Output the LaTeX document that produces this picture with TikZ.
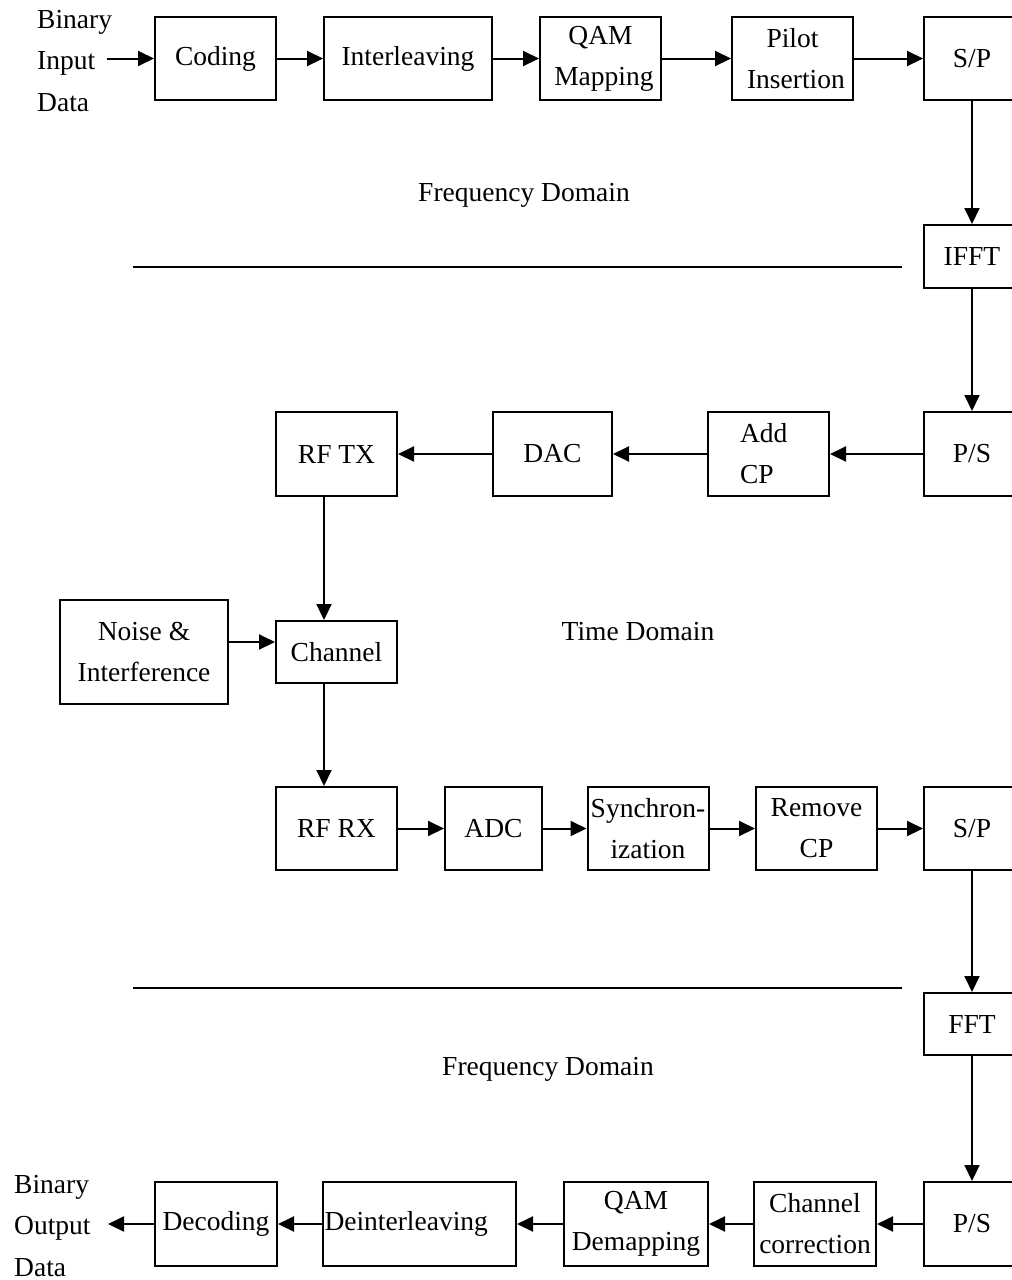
\documentclass[tikz,border=0pt]{standalone}
\usepackage{fontspec}
\setmainfont{Liberation Serif}
\usetikzlibrary{arrows.meta}
\begin{document}
\begin{tikzpicture}[x=1pt,y=-1pt,
  box/.style={draw, line width=2pt, inner sep=0pt, align=center, font=\fontsize{27.5}{41}\selectfont},
  lbl/.style={inner sep=0pt, align=left, font=\fontsize{27.5}{41.5}\selectfont},
  dom/.style={inner sep=0pt, font=\fontsize{27.5}{32}\selectfont},
  arr/.style={line width=2pt, -{Triangle[length=16pt,width=15pt]}},
  ln/.style={line width=2pt}]
\useasboundingbox (0,0) rectangle (1012,1280);
\clip (0,0) rectangle (1012,1280);
% top row
\node[lbl, anchor=west] (inp) at (37,61) {Binary\\Input\\Data};
\node[box, minimum width=121pt, minimum height=83pt] (coding) at (215.5,58.5) {Coding};
\node[box, minimum width=168pt, minimum height=83pt] (inter) at (408,58.5) {Interleaving};
\node[box, minimum width=121pt, minimum height=83pt] (qam) at (600.5,58.5) {QAM\\\ Mapping};
\node[box, minimum width=121pt, minimum height=83pt] (pilot) at (792.5,58.5) {Pilot\\\ Insertion};
\node[box, minimum width=96pt, minimum height=83pt] (sp1) at (972,58.5) {S/P};
\node[box, minimum width=96pt, minimum height=63pt] (ifft) at (972,256.5) {IFFT};
% row 2
\node[box, minimum width=121pt, minimum height=84pt] (rftx) at (336.5,454) {RF TX};
\node[box, minimum width=119pt, minimum height=84pt] (dac) at (552.5,454) {DAC};
\node[box, minimum width=121pt, minimum height=84pt, text width=57pt, align=left] (addcp) at (768.5,454) {Add\\CP};
\node[box, minimum width=96pt, minimum height=84pt] (ps1) at (972,454) {P/S};
% channel
\node[box, minimum width=168pt, minimum height=104pt] (noise) at (144,652) {Noise \&\\Interference};
\node[box, minimum width=121pt, minimum height=62pt] (chan) at (336.5,652) {Channel};
% row 3
\node[box, minimum width=121pt, minimum height=83pt] (rfrx) at (336.5,828.5) {RF RX};
\node[box, minimum width=97pt, minimum height=83pt] (adc) at (493.5,828.5) {ADC};
\node[box, minimum width=121pt, minimum height=83pt] (sync) at (648,828.5) {Synchron-\\ization};
\node[box, minimum width=121pt, minimum height=83pt] (rmcp) at (816.5,828.5) {Remove\\CP};
\node[box, minimum width=96pt, minimum height=83pt] (sp2) at (972,828.5) {S/P};
\node[box, minimum width=96pt, minimum height=62pt] (fft) at (972,1024) {FFT};
% bottom row
\node[box, minimum width=96pt, minimum height=84pt] (ps2) at (972,1224) {P/S};
\node[box, minimum width=122pt, minimum height=84pt] (chc) at (815,1224) {Channel\\correction};
\node[box, minimum width=144pt, minimum height=84pt] (qamd) at (636,1224) {QAM\\Demapping};
\node[box, text width=190pt, inner xsep=1.5pt, minimum height=84pt, align=left] (deint) at (419.5,1224) {Deinterleaving};
\node[box, minimum width=122pt, minimum height=84pt] (dec) at (216,1224) {Decoding};
\node[lbl, anchor=west] (outp) at (14,1226) {Binary\\Output\\Data};
% domain labels and separators
\node[dom] (fd1) at (524,195) {Frequency Domain};
\node[dom] (td) at (638,632) {Time Domain};
\node[dom] (fd2) at (548,1069) {Frequency Domain};
\coordinate (s1a) at (133,267);
\coordinate (s1b) at (902,267);
\coordinate (s2a) at (133,988);
\coordinate (s2b) at (902,988);
\draw[ln] (s1a) -- (s1b);
\draw[ln] (s2a) -- (s2b);
% connectors
\path (inp.west |- coding.west) ++(70,0) coordinate (intail);
\draw[arr] (intail) -- (coding.west);
\draw[arr] (coding) -- (inter);
\draw[arr] (inter) -- (qam);
\draw[arr] (qam) -- (pilot);
\draw[arr] (pilot) -- (sp1);
\draw[arr] (sp1) -- (ifft);
\draw[arr] (ifft) -- (ps1);
\draw[arr] (ps1) -- (addcp);
\draw[arr] (addcp) -- (dac);
\draw[arr] (dac) -- (rftx);
\draw[arr] ([xshift=-12.5pt]rftx.south) -- ([xshift=-12.5pt]chan.north);
\draw[arr] ([yshift=10pt]noise.east) -- ([yshift=10pt]chan.west);
\draw[arr] ([xshift=-12.5pt]chan.south) -- ([xshift=-12.5pt]rfrx.north);
\draw[arr] (rfrx) -- (adc);
\draw[arr] (adc) -- (sync);
\draw[arr] (sync) -- (rmcp);
\draw[arr] (rmcp) -- (sp2);
\draw[arr] (sp2) -- (fft);
\draw[arr] (fft) -- (ps2);
\draw[arr] (ps2) -- (chc);
\draw[arr] (chc) -- (qamd);
\draw[arr] (qamd) -- (deint);
\draw[arr] (deint) -- (dec);
\path (outp.west |- dec.west) ++(94,0) coordinate (outtip);
\draw[arr] (dec.west) -- (outtip);
\end{tikzpicture}
\end{document}
